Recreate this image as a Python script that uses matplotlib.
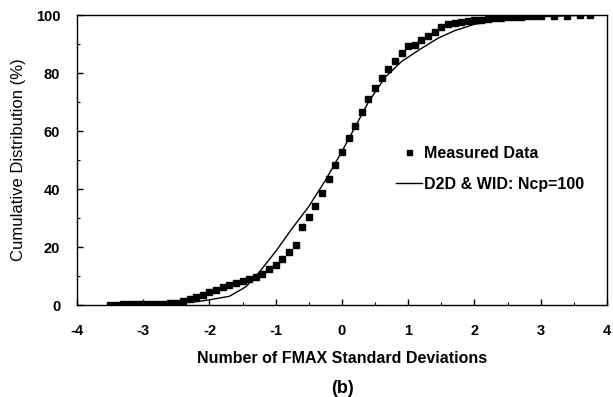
import matplotlib
matplotlib.use("Agg")
import matplotlib.pyplot as plt
from matplotlib.ticker import MultipleLocator

plt.rcParams['font.family'] = ['Liberation Sans', 'DejaVu Sans']
plt.rcParams['axes.unicode_minus'] = False

# measured data (FMAX std deviations vs cumulative %)
meas_x = [-3.5, -3.4, -3.3, -3.2, -3.1, -3.0, -2.9, -2.8, -2.7, -2.6, -2.5,
          -2.4, -2.3, -2.2, -2.1, -2.0, -1.9, -1.8, -1.7, -1.6, -1.5, -1.4,
          -1.3, -1.2, -1.1, -1.0, -0.9, -0.8, -0.7, -0.6, -0.5, -0.4, -0.3,
          -0.2, -0.1, 0.0, 0.1, 0.2, 0.3, 0.4, 0.5, 0.6, 0.7, 0.8, 0.9,
          1.0, 1.1, 1.2, 1.3, 1.4, 1.5, 1.6, 1.7, 1.8, 1.9, 2.0, 2.1, 2.2,
          2.3, 2.4, 2.5, 2.6, 2.7, 2.8, 2.9, 3.0, 3.2, 3.4, 3.6, 3.75]
meas_y = [0.1, 0.1, 0.2, 0.2, 0.2, 0.3, 0.3, 0.4, 0.5, 0.6, 0.8,
          1.4, 2.0, 2.6, 3.4, 4.6, 5.2, 6.3, 6.9, 7.5, 8.4, 8.9,
          9.5, 10.6, 12.3, 13.8, 15.9, 18.2, 20.7, 27.0, 30.4, 34.2, 38.7,
          43.4, 48.3, 52.9, 57.5, 61.7, 66.7, 70.9, 74.9, 78.2, 81.3, 84.2, 87.0,
          89.3, 89.7, 91.4, 92.8, 94.2, 96.0, 96.9, 97.3, 97.7, 98.0, 98.2, 98.4, 98.6,
          98.8, 99.0, 99.2, 99.3, 99.4, 99.5, 99.6, 99.6, 99.7, 99.8, 99.9, 100.0]

# model curve: D2D & WID, Ncp=100
model_x = [-3.5, -3.0, -2.5, -2.2, -2.0, -1.7, -1.45, -1.26, -1.0, -0.75,
           -0.5, -0.25, 0.0, 0.2, 0.4, 0.65, 0.9, 1.2, 1.45, 1.7, 2.0,
           2.5, 3.0, 3.5, 4.0]
model_y = [0.0, 0.2, 0.6, 1.1, 1.8, 3.0, 6.3, 11.0, 18.5, 26.5,
           34.0, 43.0, 53.0, 61.5, 70.0, 78.5, 84.0, 88.5, 92.0, 94.6, 96.8,
           98.6, 99.4, 99.8, 100.0]

fig = plt.figure(figsize=(6.13, 3.97), dpi=100)
ax = fig.add_axes([0.1256, 0.2317, 0.8646, 0.7305])

ax.plot(meas_x, meas_y, 's', color='black', ms=4, label='Measured Data')
ax.plot(model_x, model_y, '-', color='black', lw=1.0, label='D2D & WID: Ncp=100')

ax.set_xlim(-4, 4)
ax.set_ylim(0, 100)
ax.xaxis.set_major_locator(MultipleLocator(1))
ax.xaxis.set_minor_locator(MultipleLocator(0.5))
ax.yaxis.set_major_locator(MultipleLocator(20))
ax.yaxis.set_minor_locator(MultipleLocator(10))
ax.tick_params(axis='both', which='major', direction='in', length=4, width=1,
               labelsize=10.5)
ax.tick_params(axis='x', which='major', pad=14)
ax.tick_params(axis='y', which='major', pad=12)
ax.tick_params(axis='both', which='minor', direction='in', length=2, width=0.8)
ax.tick_params(top=False, right=False, which='both')
for lab in ax.get_xticklabels() + ax.get_yticklabels():
    lab.set_fontweight('bold')
for sp in ax.spines.values():
    sp.set_linewidth(1.0)

ax.set_xlabel('Number of FMAX Standard Deviations', fontsize=11.5,
              fontweight='bold', labelpad=9)
ax.set_ylabel('Cumulative Distribution (%)', fontsize=12)
ax.yaxis.set_label_coords(-0.097, 0.5)

ax.legend(loc='center left', bbox_to_anchor=(0.575, 0.47), frameon=False,
          handlelength=1.6, handletextpad=0.15, labelspacing=1.0,
          prop={'weight': 'bold', 'size': 11.5}, markerscale=0.9)

fig.text(0.558, 0.022, '(b)', ha='center', va='center', fontsize=13,
         fontweight='bold')

fig.savefig('out.png', dpi=100)
